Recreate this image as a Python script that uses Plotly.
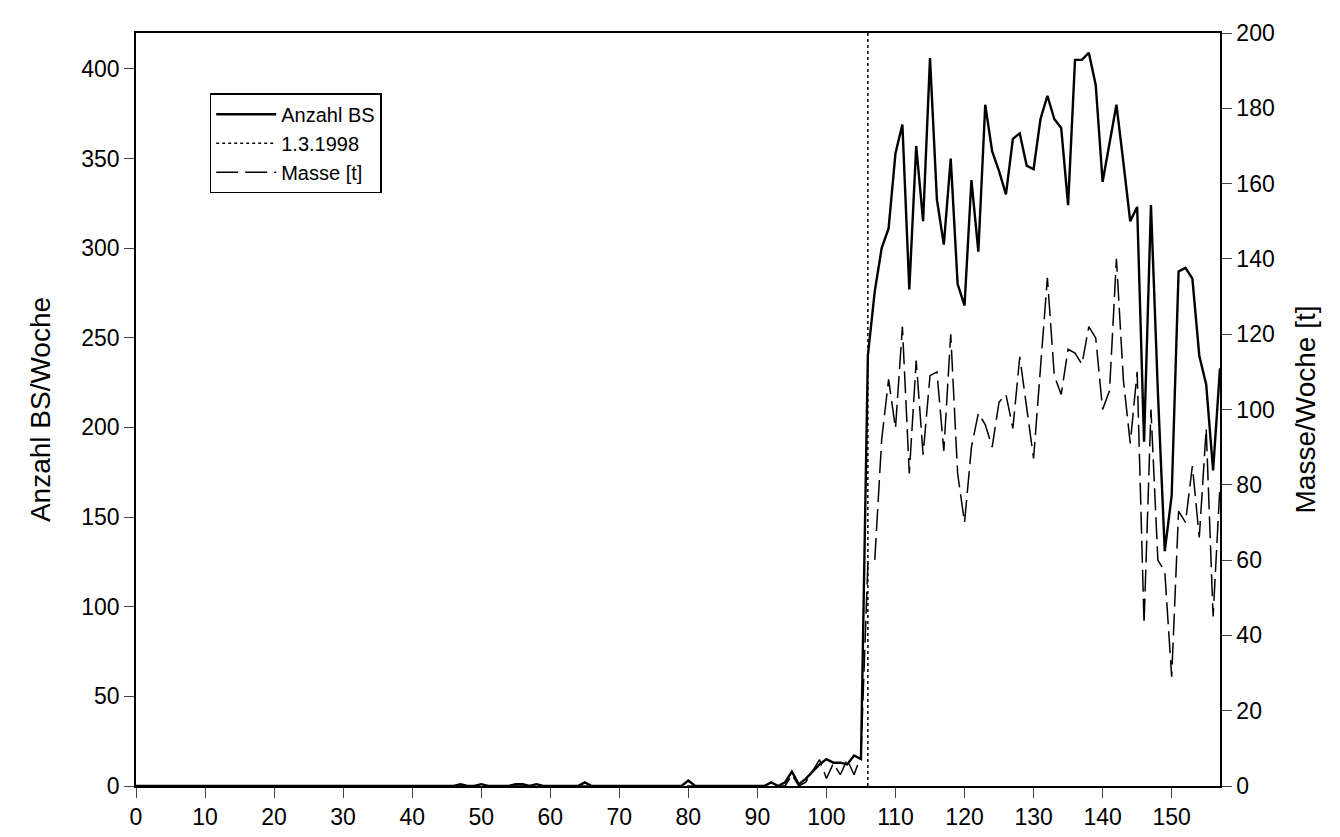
import plotly.graph_objects as go

weeks = list(range(0, 158))

# Anzahl BS pro Woche (linke Achse)
anzahl = [0] * 158
for w, v in {47: 1, 50: 1, 55: 1, 56: 1, 58: 1, 65: 2, 80: 3}.items():
    anzahl[w] = v
anzahl[92:106] = [2, 0, 2, 8, 1, 4, 8, 12, 15, 13, 13, 12, 17, 15]
anzahl[106:] = [240, 276, 300, 311, 353, 369, 277, 357, 315, 406,
                327, 302, 350, 280, 268, 338, 298, 380, 354, 343,
                330, 361, 364, 346, 344, 372, 385, 372, 367, 324,
                405, 405, 409, 391, 337, 358, 380, 348, 315, 323,
                192, 324, 220, 131, 162, 287, 289, 283, 240, 224,
                176, 233]

# Masse pro Woche in t (rechte Achse)
masse = [0] * 158
masse[92:106] = [1, 0, 0, 3, 0, 1, 4, 7, 2, 6, 3, 7, 3, 8]
masse[106:] = [59, 60, 92, 108, 95, 122, 83, 113, 88, 109,
               110, 89, 120, 83, 70, 90, 99, 96, 90, 102,
               104, 95, 114, 100, 87, 111, 135, 109, 104, 116,
               115, 112, 122, 119, 100, 105, 140, 108, 91, 110,
               43, 100, 60, 57, 29, 73, 70, 85, 66, 95,
               45, 80]

stichtag = 106
font = dict(family="Liberation Sans, Arial, sans-serif", size=23, color="black")

fig = go.Figure()
fig.add_trace(go.Scatter(x=weeks, y=anzahl, mode="lines", name="Anzahl BS",
                         line=dict(color="black", width=2.4)))
fig.add_trace(go.Scatter(x=[stichtag, stichtag], y=[0, 420], mode="lines", name="1.3.1998",
                         line=dict(color="black", width=1.5, dash="dot")))
fig.add_trace(go.Scatter(x=weeks, y=masse, mode="lines", name="Masse [t]", yaxis="y2",
                         line=dict(color="black", width=1.5, dash="22px,7px")))

fig.update_layout(
    width=1340, height=837, font=font,
    paper_bgcolor="white", plot_bgcolor="white",
    margin=dict(l=128, r=128, t=25, b=59),
    showlegend=True,
    legend=dict(x=0.068, y=0.92, xanchor="left", yanchor="top",
                bordercolor="black", borderwidth=1.5, bgcolor="white",
                font=dict(size=20), tracegroupgap=0, itemwidth=60),
    xaxis=dict(range=[0, 157], tickvals=list(range(0, 151, 10)), ticks="outside",
               ticklen=10, showline=True, linecolor="black", linewidth=1.5,
               mirror=True, showgrid=False, zeroline=False),
    yaxis=dict(range=[0, 420], tickvals=list(range(0, 401, 50)), ticks="outside",
               ticklen=10, showline=True, linecolor="black", linewidth=1.5,
               showgrid=False, zeroline=False, title=dict(text="Anzahl BS/Woche", standoff=22)),
    yaxis2=dict(range=[0, 200], tickvals=list(range(0, 201, 20)), ticks="outside",
                ticklen=10, showline=True, linecolor="black", linewidth=1.5,
                overlaying="y", side="right", showgrid=False, zeroline=False,
                title=dict(text="Masse/Woche [t]", standoff=22)),
)

fig.write_html("out.html")
